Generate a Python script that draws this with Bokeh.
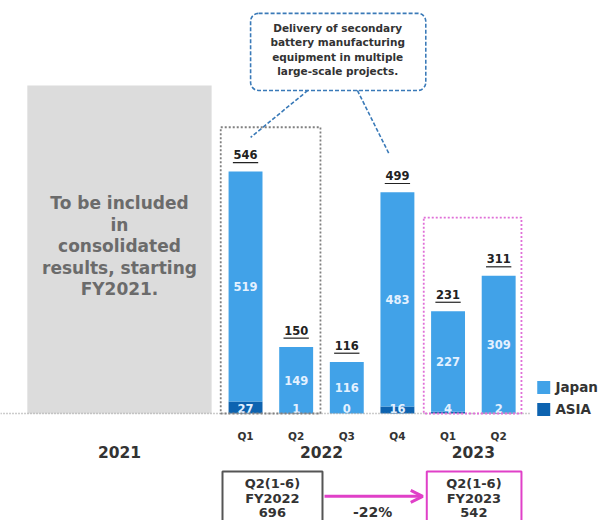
from bokeh.plotting import figure
from bokeh.models import Range1d, BoxAnnotation, Arrow, OpenHead, ColumnDataSource
from bokeh.core.properties import value
from bokeh.embed import file_html
from bokeh.resources import INLINE

# ---- data ----
quarters = ["Q1", "Q2", "Q3", "Q4", "Q1", "Q2"]
years = ["2021", "2022", "2023"]
japan = [519, 149, 116, 483, 227, 309]
asia = [27, 1, 0, 16, 4, 2]
totals = [546, 150, 116, 499, 231, 311]
h1_2022 = 696
h1_2023 = 542
change_label = "-22%"
note_2021 = ["To be included", "in", "consolidated", "results, starting", "FY2021."]
callout = ["Delivery of secondary", "battery manufacturing", "equipment in multiple", "large-scale projects."]

JAPAN_C = "#41a2e8"
ASIA_C = "#0d63b0"
FONT = value("DejaVu Sans")

xs = list(range(len(quarters)))
src = ColumnDataSource(dict(
    x=xs, japan=japan, asia=asia, total=totals,
    jtop=[a + j for a, j in zip(asia, japan)],
    jmid=[a + j / 2 for a, j in zip(asia, japan)],
    tlab=[str(t) for t in totals],
    jlab=[str(j) for j in japan],
    alab=[str(a) for a in asia],
    zero=[0] * len(xs),
))

p = figure(width=605, height=520, x_range=Range1d(-4.84, 7.11), y_range=Range1d(-241.5, 932),
           output_backend="svg", toolbar_location=None, min_border=0)
p.axis.visible = False
p.grid.visible = False
p.outline_line_color = None

# grey panel for 2021
p.add_layout(BoxAnnotation(left=-4.31, right=-0.67, bottom=0, top=740,
                           fill_color="#dcdcdc", fill_alpha=1, line_color=None, level="underlay"))
for i, line in enumerate(note_2021):
    p.text(x=[-2.49], y=[474 - i * 48.5], text=[line], text_align="center", text_baseline="middle",
           text_font=FONT, text_font_style="bold", text_font_size="17px", text_color="#6b6b6b")

# bars
p.vbar(x="x", bottom="zero", top="asia", width=0.67, source=src, fill_color=ASIA_C, line_color=None)
p.vbar(x="x", bottom="asia", top="jtop", width=0.67, source=src, fill_color=JAPAN_C, line_color=None)

# labels in bars
p.text(x="x", y="jmid", text="jlab", source=src, text_align="center", text_baseline="middle",
       text_font=FONT, text_font_style="bold", text_font_size="11.5px", text_color="#e4f1ff")
p.text(x="x", y=11, text="alab", source=src, text_align="center", text_baseline="middle",
       text_font=FONT, text_font_style="bold", text_font_size="11.5px", text_color="#e4f1ff")

# totals with underline
src.data["tl"] = [t + 38 for t in totals]
src.data["ul"] = [t + 20 for t in totals]
src.data["x0"] = [x - 0.25 for x in xs]
src.data["x1"] = [x + 0.25 for x in xs]
p.text(x="x", y="tl", text="tlab", source=src, text_align="center", text_baseline="middle",
       text_font=FONT, text_font_style="bold", text_font_size="11.5px", text_color="#222222")
p.segment(x0="x0", x1="x1", y0="ul", y1="ul", source=src, line_color="#222222", line_width=1.2)

# baseline
p.segment(x0=[-4.84], x1=[5.63], y0=[0], y1=[0], line_color="#999999", line_width=1.3, line_dash="1 2")

# dotted group boxes
p.add_layout(BoxAnnotation(left=-0.49, right=1.48, bottom=0, top=646, fill_alpha=0, line_alpha=1,
                           line_color="#808080", line_width=1.8, line_dash="2 2"))
p.add_layout(BoxAnnotation(left=3.52, right=5.45, bottom=0, top=442, fill_alpha=0, line_alpha=1,
                           line_color="#e070d8", line_width=1.8, line_dash="2 2"))

# callout
p.add_layout(BoxAnnotation(left=0.10, right=3.56, bottom=729, top=903, fill_alpha=0, line_alpha=1,
                           line_color="#3a7ab8", line_width=1.6, line_dash="4 2", border_radius=8))
for i, line in enumerate(callout):
    p.text(x=[1.82], y=[871 - i * 33], text=[line], text_align="center", text_baseline="middle",
           text_font=FONT, text_font_style="bold", text_font_size="10.5px", text_color="#333333")
p.segment(x0=[1.23, 2.21], y0=[729, 729], x1=[0.10, 2.83], y1=[623, 587],
          line_color="#3a7ab8", line_width=1.6, line_dash="4 2")

# category labels
p.text(x=xs, y=[-50] * len(xs), text=quarters, text_align="center", text_baseline="middle",
       text_font=FONT, text_font_style="bold", text_font_size="10.5px", text_color="#333333")
p.text(x=[-2.49, 1.5, 4.5], y=[-88] * 3, text=years, text_align="center", text_baseline="middle",
       text_font=FONT, text_font_style="bold", text_font_size="15.5px", text_color="#333333")

# legend
p.rect(x=[5.89, 5.89], y=[58.7, 9], width=13, height=13, width_units="screen", height_units="screen",
       fill_color=[JAPAN_C, ASIA_C], line_color=None)
p.text(x=[6.12, 6.12], y=[58.7, 9], text=["Japan", "ASIA"], text_align="left", text_baseline="middle",
       text_font=FONT, text_font_style="bold", text_font_size="13.5px", text_color="#333333")

# bottom comparison boxes
p.add_layout(BoxAnnotation(left=-0.455, right=1.52, bottom=-300, top=-131, fill_alpha=0, line_alpha=1,
                           line_color="#555555", line_width=2))
p.add_layout(BoxAnnotation(left=3.58, right=5.45, bottom=-300, top=-131, fill_alpha=0, line_alpha=1,
                           line_color="#e040c8", line_width=2))
for cx, fy, v in [(0.53, "FY2022", h1_2022), (4.51, "FY2023", h1_2023)]:
    for j, line in enumerate(["Q2(1-6)", fy, str(v)]):
        p.text(x=[cx], y=[-158 - j * 33], text=[line], text_align="center", text_baseline="middle",
               text_font=FONT, text_font_style="bold", text_font_size="13px", text_color="#333333")
p.add_layout(Arrow(end=OpenHead(size=12, line_color="#e040c8", line_width=3),
                   x_start=1.56, y_start=-187, x_end=3.50, y_end=-187,
                   line_color="#e040c8", line_width=3))
p.text(x=[2.51], y=[-222], text=[change_label], text_align="center", text_baseline="middle",
       text_font=FONT, text_font_style="bold", text_font_size="14px", text_color="#333333")

open("out.html", "w").write(file_html(p, INLINE))
